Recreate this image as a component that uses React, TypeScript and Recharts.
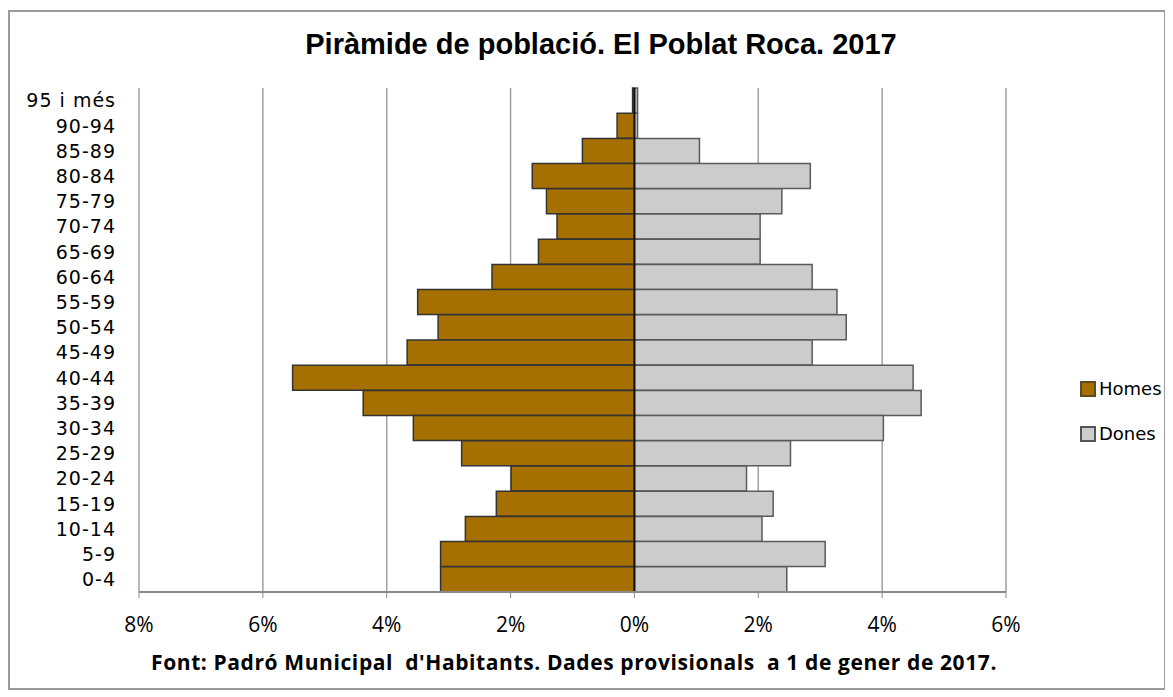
import React from 'react';
import { BarChart, Bar, XAxis, YAxis, CartesianGrid, Legend, ReferenceLine } from 'recharts';

const ageGroups = ['95 i més', '90-94', '85-89', '80-84', '75-79', '70-74', '65-69', '60-64', '55-59', '50-54', '45-49', '40-44', '35-39', '30-34', '25-29', '20-24', '15-19', '10-14', '5-9', '0-4'];
const homesPct = [0.03, 0.28, 0.84, 1.65, 1.42, 1.25, 1.55, 2.30, 3.50, 3.17, 3.67, 5.52, 4.38, 3.57, 2.79, 1.99, 2.23, 2.73, 3.13, 3.13];
const donesPct = [0.05, 0.05, 1.05, 2.84, 2.38, 2.03, 2.03, 2.87, 3.27, 3.42, 2.87, 4.50, 4.63, 4.02, 2.52, 1.81, 2.24, 2.06, 3.08, 2.46];
const xTicks = [-8, -6, -4, -2, 0, 2, 4, 6];
const titleText = 'Piràmide de població. El Poblat Roca. 2017';
const footerText = "Font: Padró Municipal  d'Habitants. Dades provisionals  a 1 de gener de 2017.";

const data = ageGroups.map((g, i) => ({ group: g, Homes: -homesPct[i], Dones: donesPct[i] }));

const HOMES_COLOR = '#A67000';
const DONES_COLOR = '#CCCCCC';

const LegendContent = (props: any) => {
  const items = [
    { name: 'Homes', fill: HOMES_COLOR, stroke: '#5a4a2a' },
    { name: 'Dones', fill: DONES_COLOR, stroke: '#555555' },
  ];
  return (
    <div style={{ fontFamily: 'DejaVu Sans, sans-serif', fontSize: 18, color: '#000' }}>
      {items.map((it) => (
        <div key={it.name} style={{ display: 'flex', alignItems: 'center', height: 45 }}>
          <div style={{ width: 12, height: 12, background: it.fill, border: `2px solid ${it.stroke}`, marginRight: 3 }} />
          <span>{it.name}</span>
        </div>
      ))}
    </div>
  );
};

export default function App() {
  return (
    <div style={{ position: 'relative', width: 1158, height: 682 }}>
      <div style={{ position: 'absolute', left: 0, top: 2, width: 1158, height: 680, border: '2px solid #9a9a9a', boxSizing: 'border-box' }} />
      <div style={{ position: 'absolute', left: 0, top: 19, width: 1186, textAlign: 'center', fontFamily: 'Liberation Sans, Arial, sans-serif', fontWeight: 'bold', fontSize: 29, lineHeight: '34px', color: '#000' }}>
        {titleText}
      </div>
      <div style={{ position: 'absolute', left: 0, top: 640, width: 1132, textAlign: 'center', fontFamily: 'Open Sans, sans-serif', fontWeight: 'bold', fontSize: 21, letterSpacing: 0.6, lineHeight: '28px', color: '#000', whiteSpace: 'pre' }}>
        {footerText}
      </div>
      <div style={{ position: 'absolute', left: 0, top: 0 }}>
        <BarChart
          width={1157}
          height={681}
          data={data}
          layout="vertical"
          stackOffset="sign"
          barCategoryGap={0}
          margin={{ top: 80, right: 159, bottom: 57, left: 0 }}
        >
          <CartesianGrid horizontal={false} vertical={true} stroke="#a0a0a0" strokeWidth={1.5} />
          <XAxis
            type="number"
            domain={[-8, 6]}
            ticks={xTicks}
            allowDataOverflow
            tickFormatter={(v: number) => `${Math.abs(v)}%`}
            tick={{ fontFamily: 'Open Sans, sans-serif', fontSize: 21, fill: '#000' }}
            tickSize={6}
            tickMargin={19}
            height={40}
            stroke="#8a8a8a"
            axisLine={{ stroke: '#8a8a8a', strokeWidth: 2 }}
          />
          <YAxis
            type="category"
            dataKey="group"
            width={131}
            tickLine={false}
            axisLine={false}
            tickSize={0}
            tickMargin={23}
            interval={0}
            tick={{ fontFamily: 'DejaVu Sans, sans-serif', fontSize: 19, fill: '#000', letterSpacing: 1 }}
          />
          <Legend
            layout="horizontal"
            verticalAlign="middle"
            align="center"
            wrapperStyle={{ left: 1072, top: 358, width: 90 }}
            content={<LegendContent />}
          />
          <Bar dataKey="Homes" stackId="p" fill={HOMES_COLOR} stroke="#333333" strokeWidth={1.5} isAnimationActive={false} />
          <Bar dataKey="Dones" stackId="p" fill={DONES_COLOR} stroke="#5a5a5a" strokeWidth={1.5} isAnimationActive={false} />
          <ReferenceLine x={0} stroke="#111111" strokeWidth={2} />
        </BarChart>
      </div>
    </div>
  );
}
